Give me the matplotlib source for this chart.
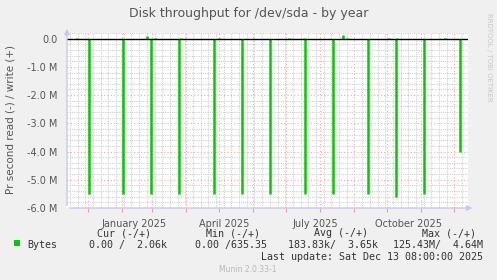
import matplotlib
matplotlib.use("Agg")
import matplotlib.pyplot as plt
import matplotlib.dates as mdates
from matplotlib.patches import Rectangle
import pandas as pd

# read spikes (plotted negative) and small write bumps (positive)
read_dates = ["2025-01-02", "2025-02-02", "2025-02-28", "2025-03-25", "2025-04-26",
              "2025-05-22", "2025-06-16", "2025-07-18", "2025-08-12", "2025-09-13",
              "2025-10-09", "2025-11-03", "2025-12-06"]
read_values = [-5.5e6, -5.5e6, -5.5e6, -5.5e6, -5.5e6, -5.5e6, -5.5e6, -5.5e6,
               -5.5e6, -5.5e6, -5.6e6, -5.5e6, -4.0e6]
write_dates = ["2024-12-22", "2025-02-24", "2025-03-03", "2025-03-27", "2025-05-01",
               "2025-07-03", "2025-07-17", "2025-08-22", "2025-08-25", "2025-10-02",
               "2025-10-10", "2025-11-22"]
write_values = [0.03e6, 0.1e6, 0.02e6, 0.02e6, 0.02e6, 0.02e6, 0.02e6, 0.14e6,
                0.04e6, 0.02e6, 0.03e6, 0.02e6]

yticks = [0, -1e6, -2e6, -3e6, -4e6, -5e6, -6e6]
ytick_labels = ["0.0", "-1.0 M", "-2.0 M", "-3.0 M", "-4.0 M", "-5.0 M", "-6.0 M"]
xlabel_dates = ["2025-02-12", "2025-05-05", "2025-07-27", "2025-10-20"]
xlabel_texts = ["January 2025", "April 2025", "July 2025", "October 2025"]

start, end = pd.Timestamp("2024-12-13 08:00"), pd.Timestamp("2025-12-13 08:00")

W, H = 497, 280
bg = "#F0F0F0"
green = "#00CC00"
fig = plt.figure(figsize=(W / 100, H / 100), dpi=100, facecolor=bg)
ax = fig.add_axes([67 / W, (H - 208) / H, (468 - 67) / W, (208 - 33) / H])
ax.set_facecolor("white")

ax.set_xlim(start, end)
ax.set_ylim(-6e6, 0.2e6)

# grid: minor weekly / 0.2M gray, major monthly / 1M red
ax.xaxis.set_major_locator(mdates.MonthLocator())
ax.xaxis.set_minor_locator(mdates.WeekdayLocator(byweekday=mdates.MO))
ax.set_yticks(yticks)
ax.set_yticks([v * 0.2e6 for v in range(-30, 2)], minor=True)
ax.grid(which="minor", color="#D0D0D0", linestyle=(0, (1, 1)), linewidth=0.8)
ax.grid(which="major", color="#F2A8A8", linestyle=(0, (1, 2)), linewidth=0.8)
ax.set_axisbelow(True)

ax.vlines(pd.to_datetime(read_dates), 0, read_values, color=green, linewidth=1.8)
ax.vlines(pd.to_datetime(write_dates), 0, write_values, color=green, linewidth=1.8)
ax.axhline(0, color="black", linewidth=1)

ax.set_yticklabels(ytick_labels, fontsize=7, color="#555555")
ax.tick_params(axis="y", which="both", length=0, pad=7)
ax.tick_params(axis="x", which="major", length=3, color="#F0A0A0", labelbottom=False)
ax.tick_params(axis="x", which="minor", length=0)
for d, t in zip(xlabel_dates, xlabel_texts):
    ax.text(pd.Timestamp(d), -0.09, t, transform=ax.get_xaxis_transform(),
            ha="center", va="center", fontsize=7, color="#555555")

for s in ax.spines.values():
    s.set_visible(False)
axis_col = "#C8C8F0"
ax.annotate("", xy=(0, 1.04), xytext=(0, 0), xycoords="axes fraction",
            arrowprops=dict(arrowstyle="-|>", color=axis_col, lw=1, mutation_scale=8),
            annotation_clip=False)
ax.annotate("", xy=(1.018, 0), xytext=(0, 0), xycoords="axes fraction",
            arrowprops=dict(arrowstyle="-|>", color=axis_col, lw=1, mutation_scale=8),
            annotation_clip=False)

fig.text(248.5 / W, 1 - 13 / H, "Disk throughput for /dev/sda - by year",
         ha="center", va="center", fontsize=9, color="#555555")
fig.text(11 / W, 1 - 120 / H, "Pr second read (-) / write (+)", rotation=90,
         ha="center", va="center", fontsize=7.5, color="#555555")
fig.text(489 / W, 1 - 57 / H, "RRDTOOL / TOBI OETIKER", rotation=270,
         ha="center", va="center", fontsize=5, color="#C8C8C8")

mono = dict(family="DejaVu Sans Mono", fontsize=7.2, color="#333333", va="center")
fig.patches.append(Rectangle((14 / W, 1 - 246 / H), 6 / W, 6 / H,
                             transform=fig.transFigure, facecolor=green, edgecolor="none"))
fig.text(27 / W, 1 - 245 / H, "Bytes", ha="left", **mono)
headers = ["Cur (-/+)", "Min (-/+)", "Avg (-/+)", "Max (-/+)"]
header_right = [151, 260, 368, 476]
values = ["0.00 /  2.06k", "0.00 /635.35", "183.83k/  3.65k", "125.43M/  4.64M"]
value_right = [167, 267, 378, 483]
for h, x in zip(headers, header_right):
    fig.text(x / W, 1 - 233 / H, h, ha="right", **mono)
for v, x in zip(values, value_right):
    fig.text(x / W, 1 - 245 / H, v, ha="right", **mono)
fig.text(483 / W, 1 - 257 / H, "Last update: Sat Dec 13 08:00:00 2025", ha="right", **mono)
fig.text(248 / W, 1 - 269 / H, "Munin 2.0.33-1", ha="center", va="center",
         fontsize=5.5, color="#B8B8B8")

fig.savefig("out.png", dpi=100, facecolor=bg)
